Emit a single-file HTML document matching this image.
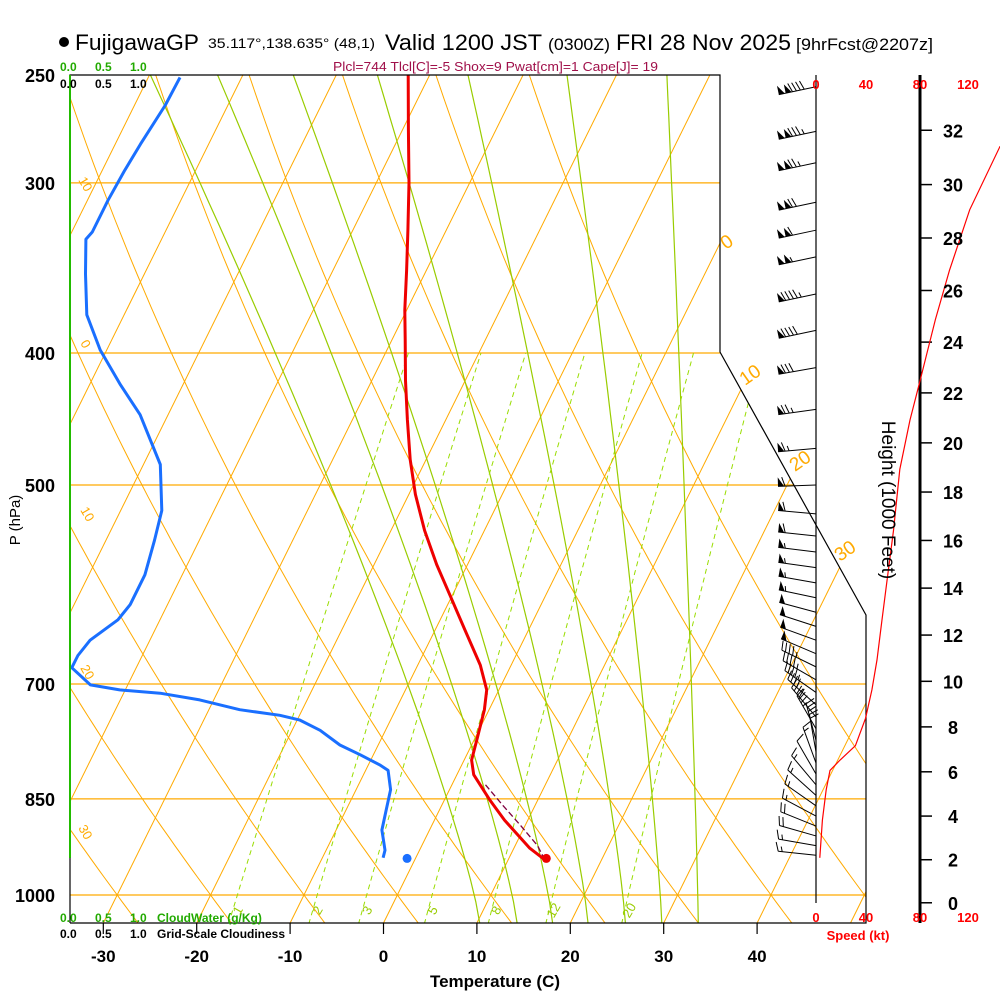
<!DOCTYPE html>
<html><head><meta charset="utf-8"><title>Skew-T FujigawaGP</title>
<style>
html,body{margin:0;padding:0;background:#fff;}
svg{display:block;font-family:"Liberation Sans",sans-serif;}
</style></head>
<body>
<svg id="chart" width="1000" height="1000" viewBox="0 0 1000 1000" xmlns="http://www.w3.org/2000/svg">
  <defs>
    <clipPath id="plotclip"><polygon points="70,75 720,75 720,352 866,615 866,923 70,923"/></clipPath>
  </defs>
  <rect width="1000" height="1000" fill="#fff"/>
  <g>
    <circle cx="64" cy="42" r="5" fill="#000"/>
    <text x="75" y="50" font-size="22" textLength="124" lengthAdjust="spacingAndGlyphs">FujigawaGP</text>
    <text x="208" y="48" font-size="14" textLength="167" lengthAdjust="spacingAndGlyphs">35.117°,138.635° (48,1)</text>
    <text x="385" y="50" font-size="22" textLength="157" lengthAdjust="spacingAndGlyphs">Valid 1200 JST</text>
    <text x="548" y="50" font-size="17" textLength="62" lengthAdjust="spacingAndGlyphs">(0300Z)</text>
    <text x="616" y="50" font-size="22" textLength="175" lengthAdjust="spacingAndGlyphs">FRI 28 Nov 2025</text>
    <text x="796" y="50" font-size="17" textLength="137" lengthAdjust="spacingAndGlyphs">[9hrFcst@2207z]</text>
    <text x="333" y="71" font-size="13" fill="#a0104a" textLength="325" lengthAdjust="spacingAndGlyphs">Plcl=744 Tlcl[C]=-5 Shox=9 Pwat[cm]=1 Cape[J]= 19</text>
  </g>
  <g id="grid" clip-path="url(#plotclip)"></g>
  <g id="series" clip-path="url(#plotclip)"></g>
  <g id="frame">
    <polyline points="70,923 70,75 720,75 720,352 866,615 866,923 70,923" fill="none" stroke="#000" stroke-width="1.2"/>
    <line x1="70" y1="75" x2="70" y2="858" stroke="#22bb00" stroke-width="2"/>
    <line x1="816" y1="75" x2="816" y2="903" stroke="#000" stroke-width="1.2"/>
    <line x1="920" y1="75" x2="920" y2="923" stroke="#000" stroke-width="3"/>
  </g>
  <g id="wind"></g>
  <g id="speedg"></g>
  <g id="labels">
    <g font-size="12" font-weight="bold">
      <text x="60" y="71" fill="#22aa00">0.0</text><text x="95" y="71" fill="#22aa00">0.5</text><text x="130" y="71" fill="#22aa00">1.0</text>
      <text x="60" y="88" fill="#000">0.0</text><text x="95" y="88" fill="#000">0.5</text><text x="130" y="88" fill="#000">1.0</text>
    </g>
    <g font-size="12" font-weight="bold">
      <text x="60" y="922" fill="#22aa00">0.0</text><text x="95" y="922" fill="#22aa00">0.5</text><text x="130" y="922" fill="#22aa00">1.0</text>
      <text x="157" y="922" fill="#22aa00">CloudWater (g/Kg)</text>
      <text x="60" y="938" fill="#000">0.0</text><text x="95" y="938" fill="#000">0.5</text><text x="130" y="938" fill="#000">1.0</text>
      <text x="157" y="938" fill="#000">Grid-Scale Cloudiness</text>
    </g>
    <g font-size="13" font-weight="bold" fill="#ff0000" text-anchor="middle">
      <text x="816" y="89">0</text><text x="866" y="89">40</text><text x="920" y="89">80</text><text x="968" y="89">120</text>
      <text x="816" y="922">0</text><text x="866" y="922">40</text><text x="920" y="922">80</text><text x="968" y="922">120</text>
      <text x="858" y="940">Speed (kt)</text>
    </g>
    <text x="495" y="987" font-size="17" font-weight="bold" text-anchor="middle">Temperature (C)</text>
    <text transform="translate(20,520) rotate(-90)" font-size="15" text-anchor="middle">P (hPa)</text>
    <text transform="translate(882,500) rotate(90)" font-size="19" text-anchor="middle">Height (1000 Feet)</text>
  </g>
</svg>
<script>
// ---- data ----
const pressureTicks = [250, 300, 400, 500, 700, 850, 1000];
const tempTicks = [-30, -20, -10, 0, 10, 20, 30, 40];
const heightTicks = [0, 2, 4, 6, 8, 10, 12, 14, 16, 18, 20, 22, 24, 26, 28, 30, 32];
const tempP = [942, 924, 881, 852, 816, 796, 770, 731, 707, 678, 639, 602, 572, 540, 508, 479, 448, 419, 391, 372, 348, 325, 300, 274, 250];
const tempT = [13.9, 11.7, 7.5, 4.9, 1.8, 0.8, 0.3, -0.5, -1.3, -3.3, -6.8, -10.3, -13.3, -16.4, -19.3, -21.7, -24.1, -26.4, -28.6, -30.2, -32.1, -34.1, -36.5, -39.4, -42.3];
const dewP = [939, 927, 896, 866, 837, 810, 803, 789, 776, 757, 744, 738, 731, 719, 711, 707, 701, 681, 667, 650, 628, 612, 582, 549, 522, 483, 444, 422, 398, 375, 350, 330, 326, 309, 294, 281, 263, 251];
const dewT = [-3.5, -3.7, -5.1, -5.7, -6.3, -7.6, -8.7, -11.4, -14.1, -17.0, -19.7, -22.1, -26.7, -31.5, -36.1, -40.6, -44.0, -46.9, -46.9, -46.4, -44.5, -44.0, -44.0, -44.8, -45.6, -48.2, -53.0, -56.7, -60.7, -64.0, -66.3, -68.1, -67.8, -67.8, -67.6, -67.3, -66.7, -66.6];
const parcelP = [942, 920, 890, 860, 830];
const parcelT = [13.9, 12.4, 9.6, 6.6, 3.6];
const surfaceT = 13.9, surfaceTd = -0.9, surfaceP = 940;
const speedP = [939, 881, 837, 810, 796, 777, 742, 707, 672, 628, 587, 540, 487, 448, 419, 378, 348, 314, 282];
const speedKt = [3, 5, 8, 11, 19, 31, 39, 44, 48, 52, 56, 61, 66, 74, 82, 94, 105, 121, 145];
const barbP = [255, 275, 290, 310, 325, 340, 362, 385, 410, 440, 470, 500, 525, 545, 560, 575, 590, 605, 620, 635, 650, 665, 680, 695, 710, 725, 740, 755, 770, 785, 800, 815, 830, 845, 860, 875, 890, 905, 920, 935];
const barbDir = [258, 258, 258, 258, 258, 258, 258, 258, 260, 262, 265, 268, 275, 276, 277, 278, 280, 282, 285, 288, 290, 293, 296, 300, 305, 312, 320, 330, 345, 350, 340, 330, 320, 312, 305, 298, 292, 286, 280, 276];
const barbSpd = [140, 135, 125, 120, 112, 105, 97, 88, 80, 73, 67, 62, 60, 58, 57, 56, 55, 54, 52, 51, 50, 48, 46, 45, 43, 41, 38, 33, 28, 20, 15, 12, 14, 15, 16, 17, 18, 18, 17, 16];
const mixRatios = [1, 2, 3, 5, 8, 12, 20];
const moistBottomT = [10.3, 14.3, 18.1, 21.9, 25.9, 29.8, 33.7];
const moistTopT = [-69.9, -62.7, -54.6, -45.6, -35.9, -25.3, -14.6];
const dryTheta = [-150, -140, -130, -120, -110, -100, -90, -80, -70, -60, -50, -40, -30, -20, -10, 0, 10, 20, 30, 40, 50, 60];
const isotherms = [-120, -110, -100, -90, -80, -70, -60, -50, -40, -30, -20, -10, 0, 10, 20, 30, 40, 50];

// ---- scales ----
const NS = "http://www.w3.org/2000/svg";
const Y = p => 75 + 591.5 * Math.log(p / 250);
const X = (T, p) => 383.5 + 9.34 * T + 0.495 * (923 - Y(p));
const SX = kt => 816 + 1.27 * kt;
const PBOT = 250 * Math.exp(848 / 591.5);
function mk(parent, tag, attrs) {
  const el = document.createElementNS(NS, tag);
  for (const k in attrs) el.setAttribute(k, attrs[k]);
  parent.appendChild(el);
  return el;
}
const grid = document.getElementById('grid');
const series = document.getElementById('series');
const labels = document.getElementById('labels');
const frame = document.getElementById('frame');
const ORANGE = '#ffaa00', GREEN = '#99cc00';

// isobars
pressureTicks.forEach(p => {
  if (p === 250) return;
  const l = mk(grid, 'line', {x1: 70, x2: 866, y1: Y(p), y2: Y(p), stroke: ORANGE, 'stroke-width': 1.2});
  
  
});
pressureTicks.forEach(p => {
  const t = mk(labels, 'text', {x: 55, y: Y(p) + 7, 'font-size': 18, 'font-weight': 'bold', 'text-anchor': 'end'});
  t.textContent = p;
  
  
});
// isotherms
isotherms.forEach(T => {
  const l = mk(grid, 'line', {x1: X(T, 1048), y1: Y(1048), x2: X(T, 250), y2: Y(250), stroke: ORANGE, 'stroke-width': 1});
  
  
});
// dry adiabats
dryTheta.forEach(th => {
  const pts = [];
  for (let p = 1050; p >= 245; p -= 10) {
    const Tt = 273.15 * Math.pow(p / 1000, 0.2857) - 273.15;
    pts.push((X(Tt, p) + 9.34 * th).toFixed(1) + ',' + Y(p).toFixed(1));
  }
  const l = mk(grid, 'polyline', {points: pts.join(' '), fill: 'none', stroke: ORANGE, 'stroke-width': 1});
  
  
});
// moist adiabats (bottom/top temperatures, curved interpolation)
moistBottomT.forEach((tb, i) => {
  const xb = X(tb, PBOT), xt = X(moistTopT[i], 250);
  const pts = [];
  for (let k = 0; k <= 40; k++) {
    const s = k / 40;
    const y = 923 - s * 848;
    const x = xb + (xt - xb) * Math.pow(s, 1.2);
    pts.push(x.toFixed(1) + ',' + y.toFixed(1));
  }
  const l = mk(grid, 'polyline', {points: pts.join(' '), fill: 'none', stroke: GREEN, 'stroke-width': 1.2});
  
  
});
// mixing ratio lines
function tdFromW(w, p) {
  const e = w * p / (622 + w);
  const a = Math.log(e / 6.112);
  return 243.5 * a / (17.67 - a);
}
mixRatios.forEach(w => {
  const pts = [];
  for (let p = 1050; p >= 400; p -= 10) pts.push(X(tdFromW(w, p), p).toFixed(1) + ',' + Y(p).toFixed(1));
  const l = mk(grid, 'polyline', {points: pts.join(' '), fill: 'none', stroke: '#99dd00', 'stroke-width': 1, 'stroke-dasharray': '5,4'});
  
  
  const x = X(tdFromW(w, 1012), 1012);
  const t = mk(labels, 'text', {x: x + 2, y: 915, 'font-size': 13, fill: GREEN, 'text-anchor': 'middle', transform: 'rotate(-60 ' + (x + 2) + ' 910)'});
  t.textContent = w;
  
  
});
// orange side labels
[['10', 78, 180], ['0', 80, 343], ['10', 80, 510], ['20', 80, 668], ['30', 78, 828]].forEach(a => {
  const t = mk(labels, 'text', {x: a[1], y: a[2], 'font-size': 13, fill: ORANGE, transform: 'rotate(60 ' + a[1] + ' ' + a[2] + ')'});
  t.textContent = a[0];
  
  
});
[['0', 726, 250], ['10', 745, 386], ['20', 795, 472], ['30', 840, 562]].forEach(a => {
  const t = mk(labels, 'text', {x: a[1], y: a[2], 'font-size': 19, fill: ORANGE, transform: 'rotate(-35 ' + a[1] + ' ' + a[2] + ')'});
  t.textContent = a[0];
  
  
});
// temperature ticks
tempTicks.forEach(T => {
  const x = 383.5 + 9.34 * T;
  const l = mk(frame, 'line', {x1: x, x2: x, y1: 923, y2: 934, stroke: '#000', 'stroke-width': 1.2});
  
  
  const t = mk(labels, 'text', {x: x, y: 962, 'font-size': 17, 'font-weight': 'bold', 'text-anchor': 'middle'});
  t.textContent = T;
  
  
});
// height ticks
heightTicks.forEach(h => {
  const m = h * 304.8;
  const p = 1013.25 * Math.pow(1 - 6.5e-3 * m / 288.15, 5.256);
  const y = Y(p);
  const l = mk(frame, 'line', {x1: 920, x2: 932, y1: y, y2: y, stroke: '#000', 'stroke-width': 1.5});
  
  
  const t = mk(labels, 'text', {x: 953, y: y + 7, 'font-size': 18, 'font-weight': 'bold', 'text-anchor': 'middle'});
  t.textContent = h;
  
  
});
// profiles
function line(P, T, attrs, name) {
  const pts = P.map((p, i) => X(T[i], p).toFixed(1) + ',' + Y(p).toFixed(1));
  const a = Object.assign({points: pts.join(' '), fill: 'none'}, attrs);
  const l = mk(series, 'polyline', a);
  
  
}
line(dewP, dewT, {stroke: '#1a6fff', 'stroke-width': 3, 'stroke-linejoin': 'round'}, 'dewpoint-line');
line(parcelP, parcelT, {stroke: '#800040', 'stroke-width': 1.3, 'stroke-dasharray': '6,3'}, 'parcel-line');
line(tempP, tempT, {stroke: '#ee0000', 'stroke-width': 3, 'stroke-linejoin': 'round'}, 'temperature-line');
{
  const c1 = mk(series, 'circle', {cx: X(surfaceT, surfaceP) + 1, cy: Y(surfaceP), r: 4.5, fill: '#ee0000'});
  
  
  const c2 = mk(series, 'circle', {cx: X(surfaceTd, surfaceP), cy: Y(surfaceP), r: 4.5, fill: '#1a6fff'});
  
  
}
// wind barbs
const wind = document.getElementById('wind');
barbP.forEach((p, i) => {
  const y = Y(p), L = 38;
  const a = barbDir[i] * Math.PI / 180;
  const ux = Math.sin(a), uy = -Math.cos(a);
  const fx = -uy, fy = ux;
  const g = mk(wind, 'g', {});
  
  
  mk(g, 'line', {x1: 816, y1: y, x2: 816 + ux * L, y2: y + uy * L, stroke: '#000', 'stroke-width': 1});
  let s = Math.round(barbSpd[i] / 5) * 5;
  let pos = L;
  const P = d => [816 + ux * d, y + uy * d];
  while (s >= 50) {
    const a0 = P(pos), a1 = P(pos - 6);
    const tip = [a0[0] + fx * 9, a0[1] + fy * 9];
    mk(g, 'polygon', {points: a0.join(',') + ' ' + tip.join(',') + ' ' + a1.join(','), fill: '#000'});
    pos -= 7; s -= 50;
  }
  while (s >= 10) {
    const a0 = P(pos);
    mk(g, 'line', {x1: a0[0], y1: a0[1], x2: a0[0] + fx * 9 + ux * 3, y2: a0[1] + fy * 9 + uy * 3, stroke: '#000', 'stroke-width': 1});
    pos -= 4; s -= 10;
  }
  if (s >= 5) {
    const a0 = P(pos);
    mk(g, 'line', {x1: a0[0], y1: a0[1], x2: a0[0] + fx * 5 + ux * 1.5, y2: a0[1] + fy * 5 + uy * 1.5, stroke: '#000', 'stroke-width': 1});
  }
});
// speed profile
{
  const pts = speedP.map((p, i) => SX(speedKt[i]).toFixed(1) + ',' + Y(p).toFixed(1));
  const l = mk(document.getElementById('speedg'), 'polyline', {points: pts.join(' '), fill: 'none', stroke: '#ff0000', 'stroke-width': 1.2});
  
  
}
</script>
</body></html>
